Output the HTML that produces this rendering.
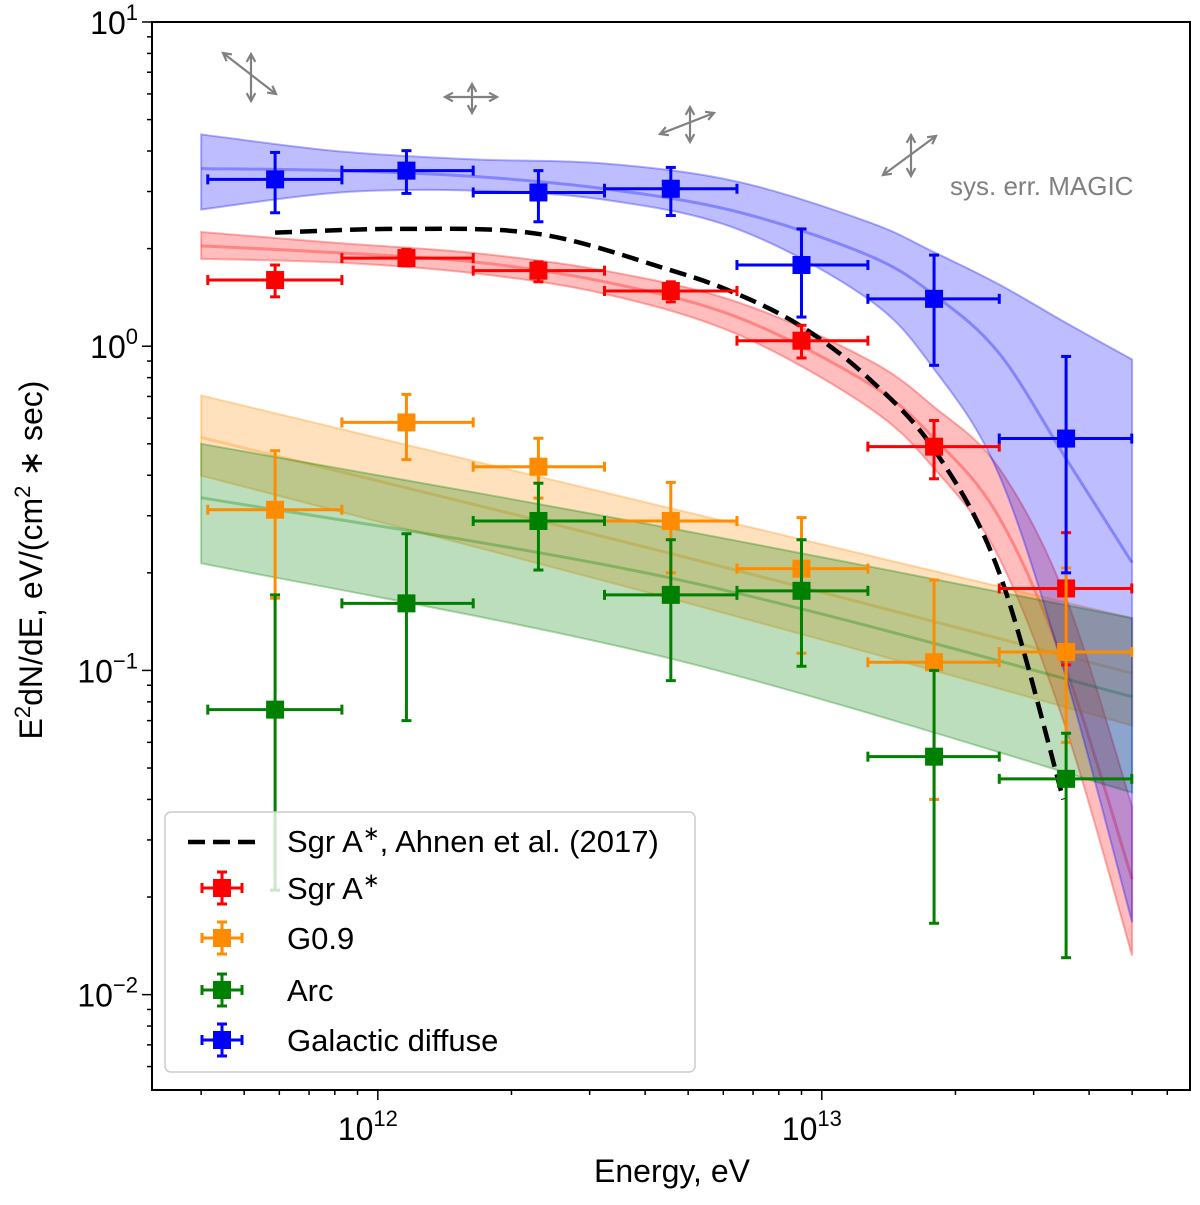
<!DOCTYPE html>
<html><head><meta charset="utf-8"><style>
body{margin:0;background:#fff;}
svg text{font-family:"Liberation Sans",sans-serif;}
</style></head><body>
<svg id="chart" width="1200" height="1200" xmlns="http://www.w3.org/2000/svg">
<g id="bands"></g>
<g id="curves"></g>
<g id="points"></g>
<g id="axes"></g>
<g id="syserr" stroke="#808080" stroke-width="2.2" fill="none"></g>
<text x="950" y="195" font-size="26" fill="#808080">sys. err. MAGIC</text>
<g id="legend"></g>
<text x="672" y="1182" font-size="32" text-anchor="middle">Energy,  eV</text>
<text transform="translate(42,560) rotate(-90)" font-size="32" text-anchor="middle">E<tspan font-size="22" dy="-12">2</tspan><tspan dy="12">dN/dE,  eV/(cm</tspan><tspan font-size="22" dy="-12">2</tspan><tspan dy="12"> ∗ sec)</tspan></text>
</svg>
<script>
// ---- data ----
const pointE = [5.87e11,1.16e12,2.3e12,4.57e12,9.0e12,1.79e13,3.55e13];
const binLo = [4.14e11,8.3e11,1.64e12,3.24e12,6.44e12,1.27e13,2.51e13];
const binHi = [8.3e11,1.64e12,3.24e12,6.44e12,1.27e13,2.51e13,4.99e13];
const redY = [1.60,1.87,1.71,1.48,1.04,0.49,0.179];
const redHi = [1.78,1.99,1.82,1.58,1.16,0.59,0.266];
const redLo = [1.42,1.77,1.58,1.37,0.92,0.39,0.104];
const orangeY = [0.313,0.582,0.425,0.289,0.206,0.106,0.114];
const orangeHi = [0.476,0.71,0.52,0.38,0.296,0.19,0.207];
const orangeLo = [0.167,0.447,0.34,0.20,0.113,0.040,0.06];
const greenY = [0.0757,0.161,0.289,0.171,0.176,0.0542,0.0463];
const greenHi = [0.171,0.264,0.378,0.253,0.253,0.10,0.064];
const greenLo = [0.021,0.0700,0.204,0.093,0.103,0.0166,0.0130];
const blueY = [3.27,3.48,2.98,3.06,1.78,1.40,0.519];
const blueHi = [3.96,4.01,3.48,3.56,2.30,1.91,0.93];
const blueLo = [2.58,2.96,2.42,2.53,1.23,0.873,0.2];
const bandE = [4e11,8.2e11,1.64e12,3.24e12,6.44e12,1.27e13,1.79e13,2.51e13,3.55e13,5e13];
const blueMid = [3.53,3.48,3.34,3.06,2.60,1.91,1.44,0.95,0.45,0.215];
const blueUp = [4.50,3.99,3.77,3.66,3.22,2.42,1.95,1.55,1.18,0.91];
const blueDn = [2.64,2.98,3.02,2.83,2.30,1.40,0.85,0.40,0.095,0.0167];
const redMid = [2.04,1.94,1.82,1.58,1.23,0.77,0.52,0.296,0.101,0.0227];
const redUp = [2.25,2.08,1.94,1.71,1.37,0.91,0.65,0.42,0.167,0.038];
const redDn = [1.86,1.81,1.68,1.45,1.09,0.65,0.42,0.222,0.066,0.0132];
const lineE = [4e11,4.54e12,5e13];
const orangeMid = [0.523,0.23,0.098];
const orangeUp = [0.705,0.317,0.145];
const orangeDn = [0.399,0.167,0.0676];
const greenMid = [0.341,0.193,0.083];
const greenUp = [0.50,0.275,0.145];
const greenDn = [0.214,0.109,0.042];
const ahnenE = [5.87e11,1.12e12,2.3e12,4.54e12,6.44e12,9e12,1.27e13,1.79e13,2.51e13,3.5e13];
const ahnenY = [2.24,2.30,2.22,1.72,1.45,1.15,0.80,0.48,0.20,0.040];
const xTicks = [1e12,1e13];
const xTickLabels = ['12','13'];
const yTicks = [0.01,0.1,1,10];
const yTickLabels = ['−2','−1','0','1'];
// ---- axes ----
const L=152,R=1190,T=22,B=1090;
const xmin=Math.log10(3.1e11), xmax=Math.log10(6.75e13);
const ymin=Math.log10(0.00508), ymax=1;
const X=e=>L+(Math.log10(e)-xmin)/(xmax-xmin)*(R-L);
const Y=v=>T+(ymax-Math.log10(v))/(ymax-ymin)*(B-T);
const NS='http://www.w3.org/2000/svg';
function mk(tag,attrs,parent){const el=document.createElementNS(NS,tag);for(const k in attrs)el.setAttribute(k,attrs[k]);parent.appendChild(el);return el;}
function smooth(P,move){ // Catmull-Rom -> bezier
  let d=(move?'M':'L')+P[0][0]+','+P[0][1];
  for(let i=0;i<P.length-1;i++){
    const p0=P[Math.max(0,i-1)],p1=P[i],p2=P[i+1],p3=P[Math.min(P.length-1,i+2)];
    const c1=[p1[0]+(p2[0]-p0[0])/6,p1[1]+(p2[1]-p0[1])/6],c2=[p2[0]-(p3[0]-p1[0])/6,p2[1]-(p3[1]-p1[1])/6];
    d+='C'+c1.join(',')+' '+c2.join(',')+' '+p2.join(',');}
  return d;}
const bands=document.getElementById('bands'),curves=document.getElementById('curves'),pts=document.getElementById('points'),axes=document.getElementById('axes');
function band(E,up,dn,mid,col,name){
  const U=E.map((e,i)=>[X(e),Y(up[i])]),D=E.map((e,i)=>[X(e),Y(dn[i])]).reverse();
  const d=smooth(U,true)+smooth(D,false)+'Z';
  const p=mk('path',{d:d,fill:col,'fill-opacity':0.26,stroke:col,'stroke-opacity':0.3,'stroke-width':2},bands);
  
  
  const m=mk('path',{d:smooth(E.map((e,i)=>[X(e),Y(mid[i])]),true),fill:'none',stroke:col,'stroke-opacity':0.3,'stroke-width':3},bands);
  
  
}
band(bandE,redUp,redDn,redMid,'#ff0000','sgr-a');
band(lineE,orangeUp,orangeDn,orangeMid,'#ff8c00','g09');
band(lineE,greenUp,greenDn,greenMid,'#008000','arc');
band(bandE,blueUp,blueDn,blueMid,'#0000ff','galactic-diffuse');
const dash=mk('path',{d:smooth(ahnenE.map((e,i)=>[X(e),Y(ahnenY[i])]),true),fill:'none',stroke:'#000','stroke-width':4.5,'stroke-dasharray':'17,8'},curves);


function series(ys,hi,lo,col,name){
  const g=mk('g',{stroke:col,'stroke-width':3,fill:col},pts);
  
  
  pointE.forEach((e,i)=>{
    const x=X(e),y=Y(ys[i]),x1=X(binLo[i]),x2=X(binHi[i]),y1=Y(hi[i]),y2=Y(lo[i]);
    mk('line',{x1:x1,x2:x2,y1:y,y2:y},g);mk('line',{x1:x,x2:x,y1:y1,y2:y2},g);
    mk('line',{x1:x1,x2:x1,y1:y-5,y2:y+5},g);mk('line',{x1:x2,x2:x2,y1:y-5,y2:y+5},g);
    mk('line',{x1:x-5,x2:x+5,y1:y1,y2:y1},g);mk('line',{x1:x-5,x2:x+5,y1:y2,y2:y2},g);
    const r=mk('rect',{x:x-9,y:y-9,width:18,height:18,stroke:'none'},g);
    
    
  });
}
series(redY,redHi,redLo,'#ff0000','sgr-a');
series(orangeY,orangeHi,orangeLo,'#ff8c00','g09');
series(greenY,greenHi,greenLo,'#008000','arc');
series(blueY,blueHi,blueLo,'#0000ff','galactic-diffuse');
// axes frame & ticks
mk('rect',{x:L,y:T,width:R-L,height:B-T,fill:'none',stroke:'#000','stroke-width':2},axes);
for(let dec=11;dec<=13;dec++)for(let m=1;m<10;m++){const e=m*Math.pow(10,dec);if(e<3.1e11||e>6.75e13)continue;
  mk('line',{x1:X(e),x2:X(e),y1:B,y2:B+(m==1?10:5),stroke:'#000','stroke-width':1.5},axes);}
for(let dec=-3;dec<=1;dec++)for(let m=1;m<10;m++){const v=m*Math.pow(10,dec);if(v<0.00508||v>10.01)continue;
  mk('line',{x1:L,x2:L-(m==1?10:5),y1:Y(v),y2:Y(v),stroke:'#000','stroke-width':1.5},axes);}
xTicks.forEach((e,i)=>{const t=mk('text',{x:X(e)-10,y:B+50,'font-size':32,'text-anchor':'middle'},axes);
  
  
  t.innerHTML='10<tspan font-size="22" dy="-14">'+xTickLabels[i]+'</tspan>';});
yTicks.forEach((v,i)=>{const t=mk('text',{x:L-14,y:Y(v)+12,'font-size':32,'text-anchor':'end'},axes);
  
  
  t.innerHTML='10<tspan font-size="22" dy="-14">'+yTickLabels[i]+'</tspan>';});
// sys err arrows
const sg=document.getElementById('syserr');
const arrows=[[251,54,251,101],[223,53,276,94],[445,97,497,97],[472,84,472,113],[690,107,690,142],[660,134,714,113],[911,135,911,176],[883,175,936,136]];
arrows.forEach(a=>{const[x1,y1,x2,y2]=a;mk('line',{x1,y1,x2,y2},sg);
  const ang=Math.atan2(y2-y1,x2-x1),h=9;
  [[x1,y1,ang],[x2,y2,ang+Math.PI]].forEach(([px,py,an])=>{
    mk('path',{d:`M${px+h*Math.cos(an+0.5)},${py+h*Math.sin(an+0.5)}L${px},${py}L${px+h*Math.cos(an-0.5)},${py+h*Math.sin(an-0.5)}`},sg);});});
// legend
const lg=document.getElementById('legend');
mk('rect',{x:165,y:812,width:530,height:260,rx:6,fill:'#fff','fill-opacity':0.8,stroke:'#ccc','stroke-width':1.5},lg);
mk('line',{x1:188,x2:258,y1:842,y2:842,stroke:'#000','stroke-width':4.5,'stroke-dasharray':'17,8'},lg);
const lt=mk('text',{x:287,y:852,'font-size':31},lg);lt.innerHTML='Sgr A<tspan font-size="20" dy="-12">∗</tspan><tspan dy="12">,  Ahnen et al. (2017)</tspan>';
const entries=[['#ff0000','Sgr A<tspan font-size="20" dy="-12">∗</tspan>',888],['#ff8c00','G0.9',938],['#008000','Arc',990],['#0000ff','Galactic diffuse',1040]];
entries.forEach(([c,txt,y])=>{const g=mk('g',{stroke:c,'stroke-width':3,fill:c},lg);
  
  
  mk('line',{x1:202,x2:242,y1:y,y2:y},g);mk('line',{x1:222,x2:222,y1:y-16,y2:y+16},g);
  mk('line',{x1:202,x2:202,y1:y-5,y2:y+5},g);mk('line',{x1:242,x2:242,y1:y-5,y2:y+5},g);
  mk('line',{x1:217,x2:227,y1:y-16,y2:y-16},g);mk('line',{x1:217,x2:227,y1:y+16,y2:y+16},g);
  mk('rect',{x:213,y:y-9,width:18,height:18,stroke:'none'},g);
  const t=mk('text',{x:287,y:y+11,'font-size':31,fill:'#000',stroke:'none'},g);t.innerHTML=txt;});
</script>
</body></html>
